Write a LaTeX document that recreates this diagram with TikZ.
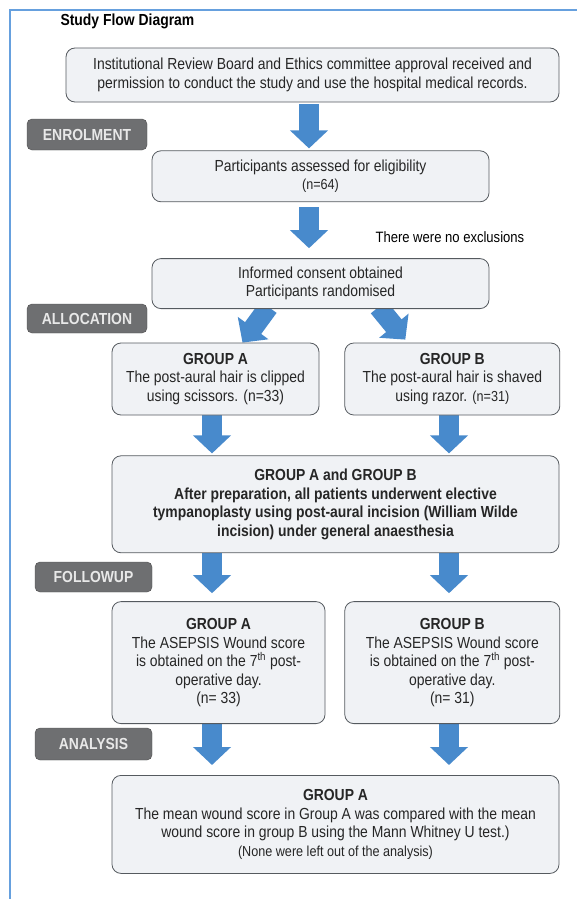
\documentclass[tikz,border=0pt]{standalone}
\usepackage{fontspec}
\setmainfont{Liberation Sans}[FakeStretch=0.87]
\usetikzlibrary{positioning,arrows.meta,calc}
\pgfdeclarelayer{bg}
\pgfsetlayers{bg,main}
\definecolor{boxfill}{RGB}{240,242,245}
\definecolor{boxline}{RGB}{85,90,95}
\definecolor{tagfill}{RGB}{110,111,113}
\definecolor{tagtext}{RGB}{232,232,232}
\definecolor{arrowblue}{RGB}{72,138,204}
\definecolor{frameblue}{RGB}{102,160,222}
\newcommand{\smalltext}{\fontsize{14.5}{17}\selectfont}

\begin{document}
\begin{tikzpicture}[x=1pt, y=1pt,
    font=\fontsize{16}{18.5}\selectfont,
    flownode/.style={rectangle, rounded corners=9pt, draw=boxline, fill=boxfill, line width=0.8pt, align=center, text=black!85, inner sep=2pt},
    tagnode/.style={rectangle, rounded corners=5pt, draw=black!70, fill=tagfill, text=tagtext, font=\fontsize{16}{18.5}\selectfont\bfseries, minimum width=120pt, inner sep=0pt},
    blockarrow/.style={draw=arrowblue, line width=20pt, -{Triangle[width=37pt,length=18pt]}},
]
\useasboundingbox (0,0) rectangle (577,-899);
\draw[frameblue, line width=2pt] (10,-899) -- (10,-10) -- (577,-10);

%Nodes
\node[anchor=west, font=\fontsize{16}{18.5}\selectfont\bfseries] (title) at (57,-21) {Study Flow Diagram};

\node[flownode, minimum width=493pt, minimum height=54pt] (irb) at (312.5,-75) {Institutional Review Board and Ethics committee approval received and\\ permission to conduct the study and use the hospital medical records.};
\node[flownode, minimum width=337pt, minimum height=51pt] (elig) [below=48pt of irb, xshift=8pt] {Participants assessed for eligibility\\ \smalltext (n=64)};
\node[flownode, minimum width=337pt, minimum height=50pt] (consent) [below=56pt of elig] {Informed consent obtained\\ Participants randomised};
\node[anchor=west, font=\fontsize{15}{18}\selectfont] (note) at (372,-237) {There were no exclusions};

\node[flownode, minimum width=207pt, minimum height=72pt] (grpA) at (215.5,-379) {\textbf{GROUP A}\\ The post-aural hair is clipped\\ using scissors. (n=33)};
\node[flownode, minimum width=215pt, minimum height=72pt] (grpB) [right=25pt of grpA] {\textbf{GROUP B}\\ The post-aural hair is shaved\\ using razor. {\smalltext (n=31)}};

\node[flownode, minimum width=447pt, minimum height=97pt, font=\fontsize{16}{18.5}\selectfont\bfseries] (grpAB) [below=40pt of grpA.south west, anchor=north west] {GROUP A and GROUP B\\ After preparation, all patients underwent elective\\ tympanoplasty using post-aural incision (William Wilde\\ incision) under general anaesthesia};

\node[flownode, minimum width=213pt, minimum height=122pt] (fupA) [below=48pt of grpAB.south west, anchor=north west] {\textbf{GROUP A}\\ The ASEPSIS Wound score\\ is obtained on the 7\textsuperscript{th} post-\\ operative day.\\ (n= 33)};
\node[flownode, minimum width=215pt, minimum height=122pt] (fupB) [right=19pt of fupA] {\textbf{GROUP B}\\ The ASEPSIS Wound score\\ is obtained on the 7\textsuperscript{th} post-\\ operative day.\\ (n= 31)};

\node[flownode, minimum width=447pt, minimum height=98pt] (result) [below=51pt of fupA.south west, anchor=north west] {\textbf{GROUP A}\\ The mean wound score in Group A was compared with the mean\\ wound score in group B using the Mann Whitney U test.)\\ \smalltext (None were left out of the analysis)};

\node[tagnode, minimum height=31pt] (enrol) at (87,-134.5) {ENROLMENT};
\node[tagnode, minimum height=29pt] (alloc) at (87,-318.5) {ALLOCATION};
\node[tagnode, minimum width=117pt, minimum height=30pt] (follow) at (93.5,-577) {FOLLOWUP};
\node[tagnode, minimum width=117pt, minimum height=32pt] (analysis) at (93.5,-744) {ANALYSIS};

\coordinate (midLine) at (309,0);
\coordinate (colA) at (212,0);
\coordinate (colB) at (449,0);

%Arrows
\begin{pgfonlayer}{bg}
\draw[blockarrow, shorten <=2pt, shorten >=2pt] (irb.south -| midLine) -- (elig.north -| midLine);
\draw[blockarrow, shorten <=5pt, shorten >=10pt] (elig.south -| midLine) -- (consent.north -| midLine);

\draw[blockarrow] ($(consent.south)+(-52,2)$) -- ($(grpA.north)+(27,0)$);
\draw[blockarrow] ($(consent.south)+(58,2)$) -- ($(grpB.north)+(-47,3)$);

\draw[blockarrow, shorten >=2pt] (grpA.south -| colA) -- (grpAB.north -| colA);
\draw[blockarrow, shorten >=2pt] (grpB.south -| colB) -- (grpAB.north -| colB);

\draw[blockarrow, shorten >=8pt] (grpAB.south -| colA) -- (fupA.north -| colA);
\draw[blockarrow, shorten >=8pt] (grpAB.south -| colB) -- (fupB.north -| colB);

\draw[blockarrow, shorten >=10pt] (fupA.south -| colA) -- (result.north -| colA);
\draw[blockarrow, shorten >=10pt] (fupB.south -| colB) -- (result.north -| colB);
\end{pgfonlayer}
\end{tikzpicture}
\end{document}
